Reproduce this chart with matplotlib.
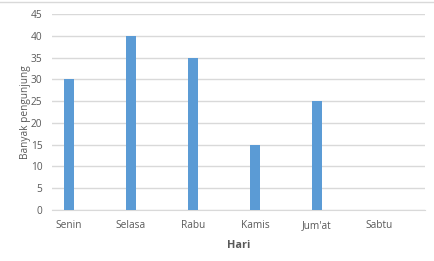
import matplotlib
matplotlib.use("Agg")
import matplotlib.pyplot as plt

hari = ["Senin", "Selasa", "Rabu", "Kamis", "Jum'at", "Sabtu"]
pengunjung = [30, 40, 35, 15, 25, 0]
y_ticks = [0, 5, 10, 15, 20, 25, 30, 35, 40, 45]

plt.rcParams['font.family'] = ['Open Sans', 'DejaVu Sans']
text_color = "#595959"
grid_color = "#d9d9d9"
bar_color = "#5b9bd5"

W, H = 435, 261
fig = plt.figure(figsize=(W / 100, H / 100), dpi=100)
ax = fig.add_axes([52 / W, 1 - 210 / H, (425 - 52) / W, (210 - 14) / H])

x = list(range(len(hari)))
ax.bar(x, pengunjung, width=0.16, color=bar_color, zorder=3)

ax.set_ylim(0, 45)
ax.set_yticks(y_ticks)
ax.set_xlim(-0.27, 5.74)
ax.set_xticks(x)
ax.set_xticklabels(hari)
ax.grid(axis='y', color=grid_color, linewidth=1, zorder=0)
for s in ['top', 'right', 'left']:
    ax.spines[s].set_visible(False)
ax.spines['bottom'].set_color(grid_color)
ax.tick_params(axis='both', length=0, labelsize=7.3, colors=text_color)
ax.tick_params(axis='y', pad=7)
ax.tick_params(axis='x', pad=7.5)

ax.set_ylabel("Banyak pengunjung", fontsize=7.3, color=text_color, labelpad=0)
ax.set_xlabel("Hari", fontsize=7.8, fontweight='bold', color=text_color, labelpad=6)

# light chart-area border along the top edge
fig.add_artist(plt.Line2D([0, 1], [1 - 2 / H, 1 - 2 / H], color=grid_color,
                          linewidth=1, transform=fig.transFigure))

fig.savefig("out.png", dpi=100)
